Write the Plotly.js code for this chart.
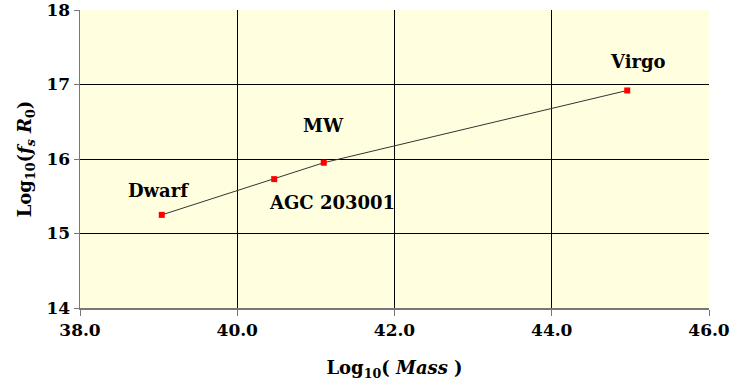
<!DOCTYPE html>
<html><head><meta charset="utf-8">
<script src="https://cdn.plot.ly/plotly-3.0.1.min.js"></script>
<style>body{margin:0;background:#fff}#c{width:731px;height:387px}</style>
</head><body><div id="c"></div>
<script>
const names = ["Dwarf", "AGC 203001", "MW", "Virgo"];
const logMass = [39.04, 40.47, 41.1, 44.96];
const logFsR0 = [15.25, 15.73, 15.95, 16.92];
const labelX = [39.0, 41.2, 41.1, 45.1];
const labelY = [15.58, 15.42, 16.45, 17.31];

const fam = "DejaVu Serif";
const font = {family: fam, size: 18, color: "#000"};
const trace = {
  x: logMass, y: logFsR0, type: "scatter", mode: "lines+markers",
  line: {color: "#333", width: 1},
  marker: {color: "#ff0000", size: 6, symbol: "square"},
  hoverinfo: "skip"
};
const annotations = names.map((n, i) => ({
  x: labelX[i], y: labelY[i], xref: "x", yref: "y", text: "<b>" + n + "</b>",
  showarrow: false, font: {family: fam, size: 18, color: "#000"}
}));
const layout = {
  width: 731, height: 387,
  margin: {l: 80, r: 22, t: 10, b: 79},
  paper_bgcolor: "#fff", plot_bgcolor: "#ffffe0",
  showlegend: false,
  font: font,
  xaxis: {
    range: [38, 46], dtick: 2, tick0: 38, tickformat: ".1f",
    showgrid: true, gridcolor: "#000", gridwidth: 1,
    zeroline: false, showline: true, linecolor: "#777", linewidth: 1.5, mirror: false,
    ticks: "outside", ticklen: 6, tickcolor: "#777",
    ticklabeloverflow: "allow", automargin: false,
    tickfont: {family: fam, size: 17, color: "#000", weight: "bold"},
    title: {text: "<b>Log<sub>10</sub>( <i>Mass</i> )</b>", font: {family: fam, size: 18, color: "#000"}, standoff: 22}
  },
  yaxis: {
    range: [14, 18], dtick: 1,
    showgrid: true, gridcolor: "#000", gridwidth: 1,
    zeroline: false, showline: true, linecolor: "#777", linewidth: 1.5,
    ticks: "outside", ticklen: 5, tickcolor: "#777",
    ticklabeloverflow: "allow", automargin: false,
    tickfont: {family: fam, size: 17, color: "#000", weight: "bold"},
    title: {text: "<b>Log<sub>10</sub>(<i>f<sub>s</sub> R</i><sub>0</sub>)</b>", font: {family: fam, size: 18, color: "#000"}, standoff: 10}
  },
  annotations: annotations
};
Plotly.newPlot("c", [trace], layout, {staticPlot: true});
</script></body></html>
